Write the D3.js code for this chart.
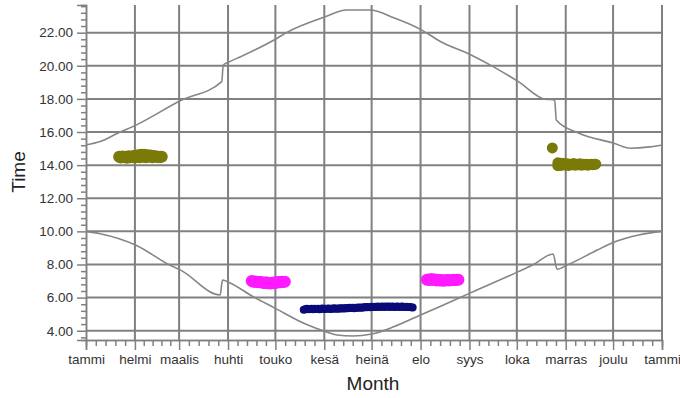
<html>
<head>
    <style>
        body { margin: 0; background: white; }
        #container { font-family: "Liberation Sans", Arial, sans-serif; }
        .grid line { stroke: #808080; stroke-width: 2 }
        .axis path, .axis line { stroke: #808080; stroke-width: 1.5 }
        .axis text { fill: #333; font-size: 13.5px }
        .curve { fill: none; stroke: #858585; stroke-width: 1.6 }
    </style>
</head>
<body>
    <svg id="container" width="680" height="398"></svg>
</body>
<script src="https://cdn.jsdelivr.net/npm/d3@7"></script>
<script>
    // month start days and their (finnish) names
    let monthDays = [0, 31, 59, 90, 120, 151, 181, 212, 243, 273, 304, 334, 365]
    let monthNames = ["tammi", "helmi", "maalis", "huhti", "touko", "kesä", "heinä", "elo", "syys", "loka", "marras", "joulu", "tammi"]
    let timeTicks = [4, 6, 8, 10, 12, 14, 16, 18, 20, 22]

    // sunset and sunrise [day of year, time] (with the DST jumps)
    let sunset = [[0, 15.22], [9, 15.42], [20, 15.92], [32, 16.43], [60, 17.9], [86, 19.04], [87, 20.05], [91, 20.25],
        [98, 20.55], [120, 21.6], [127, 22.0], [152, 22.97], [165, 23.37], [180, 23.37], [195, 22.9], [212, 22.2],
        [224, 21.5], [244, 20.65], [258, 19.95], [274, 19.04], [291, 17.98], [297, 17.94], [298, 16.73], [312, 15.94],
        [334, 15.34], [345, 15.02], [357, 15.1], [365, 15.22]]
    let sunrise = [[0, 10.0], [9, 9.86], [32, 9.15], [53, 7.97], [60, 7.66], [85, 6.16], [86.5, 7.06], [91, 6.9],
        [106, 6.05], [120, 5.35], [138, 4.45], [152, 3.94], [159, 3.74], [169, 3.68], [181, 3.8], [195, 4.24],
        [212, 4.95], [224, 5.45], [244, 6.3], [274, 7.57], [283, 7.97], [296, 8.63], [298.5, 7.71], [305, 7.97],
        [324, 8.87], [334, 9.33], [351, 9.8], [365, 10.0]]

    // observations [day of year, time]
    let oliveWinter = [[21, 14.5], [22, 14.46], [23, 14.52], [24, 14.48], [25, 14.5], [26, 14.44], [27, 14.53],
        [28, 14.47], [29, 14.5], [30, 14.55], [31, 14.46], [32, 14.52], [33, 14.6], [34, 14.48], [35, 14.62],
        [36, 14.5], [37, 14.63], [38, 14.47], [39, 14.6], [40, 14.52], [41, 14.58], [42, 14.48], [43, 14.55],
        [44, 14.5], [45, 14.52], [46, 14.48], [47, 14.5], [48, 14.5]]
    let oliveAutumn = [[295.5, 15.04], [299, 14.14], [299, 13.97], [300, 14.06], [301, 14.12], [301, 13.98],
        [302, 14.05], [303, 14.1], [304, 14.0], [305, 14.08], [306, 13.98], [307, 14.06], [308, 14.02], [309, 14.1],
        [310, 14.0], [311, 14.06], [312, 14.02], [313, 14.08], [314, 14.0], [315, 14.05], [316, 14.02], [317, 14.06],
        [318, 14.0], [319, 14.04], [320, 14.06], [321, 14.03], [322, 14.05], [323, 14.06]]
    let pinkSpring = [[105, 7.0], [106, 6.96], [107, 6.98], [108, 6.94], [109, 6.96], [110, 6.92], [111, 6.95],
        [112, 6.9], [113, 6.88], [114, 6.92], [115, 6.86], [116, 6.88], [117, 6.85], [118, 6.9], [119, 6.87],
        [120, 6.92], [121, 6.9], [122, 6.95], [123, 6.93], [124, 6.96], [125, 6.95], [126, 6.96]]
    let pinkAugust = [[216, 7.08], [217, 7.1], [218, 7.06], [219, 7.12], [220, 7.07], [221, 7.1], [222, 7.04],
        [223, 7.08], [224, 7.03], [225, 7.06], [226, 7.02], [227, 7.05], [228, 7.03], [229, 7.06], [230, 7.04],
        [231, 7.07], [232, 7.05], [233, 7.08], [234, 7.07], [235, 7.08], [236, 7.08]]
    let navySummer = [[138, 5.27], [139, 5.3], [140, 5.32], [141, 5.29], [142, 5.31], [143, 5.33], [144, 5.3],
        [145, 5.32], [146, 5.31], [147, 5.33], [148, 5.3], [149, 5.32], [150, 5.34], [151, 5.31], [152, 5.33],
        [153, 5.32], [154, 5.34], [155, 5.31], [156, 5.33], [157, 5.35], [158, 5.32], [159, 5.34], [160, 5.33],
        [161, 5.35], [162, 5.34], [163, 5.36], [164, 5.34], [165, 5.37], [166, 5.35], [167, 5.38], [168, 5.37],
        [169, 5.38], [170, 5.36], [171, 5.39], [172, 5.38], [173, 5.4], [174, 5.39], [175, 5.41], [176, 5.4],
        [177, 5.43], [178, 5.42], [179, 5.44], [180, 5.42], [181, 5.45], [182, 5.43], [183, 5.45], [184, 5.44],
        [185, 5.46], [186, 5.44], [187, 5.45], [188, 5.47], [189, 5.44], [190, 5.46], [191, 5.45], [192, 5.47],
        [193, 5.44], [194, 5.46], [195, 5.45], [196, 5.44], [197, 5.46], [198, 5.45], [199, 5.44], [200, 5.46],
        [201, 5.45], [202, 5.44], [203, 5.45], [204, 5.44], [205, 5.43], [206, 5.42], [207, 5.41]]

    let svg = d3.select("#container")

    let x = d3.scaleLinear().domain([0, 365]).range([86, 662])
    let y = d3.scaleLinear().domain([3.44, 23.67]).range([340, 5])

    // grid
    let grid = svg.append("g").attr("class", "grid")
    grid.selectAll(".h").data(timeTicks).enter().append("line")
        .attr("x1", x(0)).attr("x2", x(365) + 1)
        .attr("y1", d => y(d)).attr("y2", d => y(d))
    grid.selectAll(".v").data(monthDays.slice(1)).enter().append("line")
        .attr("x1", d => x(d)).attr("x2", d => x(d))
        .attr("y1", y.range()[1]).attr("y2", y.range()[0])

    // minor ticks: 4 between each major one
    let minorX = []
    for (let i = 0; i < monthDays.length - 1; i++) {
        for (let k = 1; k < 5; k++) minorX.push(monthDays[i] + (monthDays[i + 1] - monthDays[i]) * k / 5)
    }
    let minorY = d3.range(3.6, 23.67, 0.4).filter(d => Math.abs(d / 2 - Math.round(d / 2)) > 0.01)

    svg.append("g").attr("class", "axis")
        .attr("transform", "translate(0,340)")
        .call(d3.axisBottom(x).tickValues(minorX).tickSize(6).tickFormat(""))
    svg.append("g").attr("class", "axis")
        .attr("transform", "translate(0,340)")
        .call(d3.axisBottom(x).tickValues(monthDays).tickSize(10).tickPadding(4).tickFormat((d, i) => monthNames[i]))

    svg.append("g").attr("class", "axis")
        .attr("transform", "translate(86,0)")
        .call(d3.axisLeft(y).tickValues(minorY).tickSize(5).tickFormat(""))
    svg.append("g").attr("class", "axis")
        .attr("transform", "translate(86,0)")
        .call(d3.axisLeft(y).tickValues(timeTicks).tickSize(9).tickPadding(4).tickFormat(d3.format(".2f")))
    svg.selectAll(".axis .domain").attr("stroke", "#808080")
    svg.selectAll(".axis text").style("font-size", null)

    // sun curves
    let line = d3.line().x(d => x(d[0])).y(d => y(d[1])).curve(d3.curveMonotoneX)
    svg.append("path").attr("class", "curve").attr("d", line(sunset))
    svg.append("path").attr("class", "curve").attr("d", line(sunrise))

    // observation dots
    function dots(data, color, r) {
        svg.append("g").selectAll("circle").data(data).enter().append("circle")
            .attr("cx", d => x(d[0])).attr("cy", d => y(d[1]))
            .attr("r", r).attr("fill", color)
    }
    dots(oliveWinter, "#7a7a08", 6)
    dots(oliveAutumn, "#7a7a08", 5.5)
    dots(pinkSpring, "#ff1aff", 6)
    dots(pinkAugust, "#ff1aff", 6)
    dots(navySummer, "#0a0a78", 4)

    // axis titles
    svg.append("text").attr("x", 373).attr("y", 390)
        .attr("text-anchor", "middle").style("font-size", "19px").attr("fill", "#222")
        .text("Month")
    svg.append("text").attr("transform", "translate(25,172) rotate(-90)")
        .attr("text-anchor", "middle").style("font-size", "19px").attr("fill", "#222")
        .text("Time")
</script>
</html>
